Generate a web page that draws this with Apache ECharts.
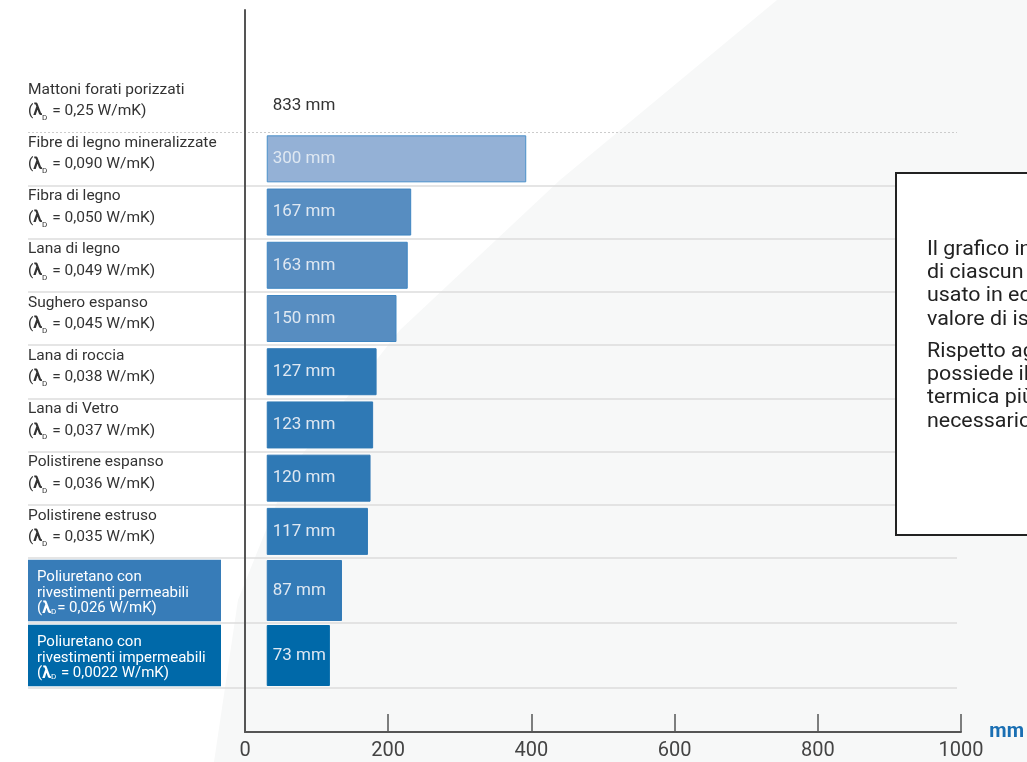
<!DOCTYPE html>
<html>
<head>
<meta charset="utf-8">
<script src="https://cdn.jsdelivr.net/npm/echarts@6/dist/echarts.min.js"></script>
<style>
html,body{margin:0;padding:0;background:#fff;overflow:hidden;}
#chart{width:1027px;height:762px;}
</style>
</head>
<body>
<div id="chart"></div>
<script>
// ---- data ----
var materials = [
  'Mattoni forati porizzati',
  'Fibre di legno mineralizzate',
  'Fibra di legno',
  'Lana di legno',
  'Sughero espanso',
  'Lana di roccia',
  'Lana di Vetro',
  'Polistirene espanso',
  'Polistirene estruso',
  'Poliuretano con\nrivestimenti permeabili',
  'Poliuretano con\nrivestimenti impermeabili'
];
var lambdas = ['0,25', '0,090', '0,050', '0,049', '0,045', '0,038', '0,037', '0,036', '0,035', '0,026', '0,0022'];
var thickness = [833, 300, 167, 163, 150, 127, 123, 120, 117, 87, 73];
var axisTicks = [0, 200, 400, 600, 800, 1000];
var unitName = 'mm';

var barColors = ['rgba(0,0,0,0)', '#94b1d6', '#578dc1', '#578dc1', '#578dc1', '#2f79b5', '#2f79b5', '#2f79b5', '#2f79b5', '#337bb7', '#0069a9'];
var barBorders = ['rgba(0,0,0,0)', '#4a90c9', '#3f86c2', '#3f86c2', '#3f86c2', '#2f79b5', '#2f79b5', '#2f79b5', '#2f79b5', '#337bb7', '#0069a9'];
var boxColors = { 9: '#377cb8', 10: '#0069a9' };
var SPLIT = 9; // first group: classic materials, second group: polyurethane

var FONT = 'Roboto, "Noto Sans", sans-serif';

function catItems(from, to) {
  return materials.slice(from, to).map(function (m, j) {
    var i = from + j;
    if (boxColors[i]) {
      return {
        value: m,
        textStyle: {
          color: '#ffffff',
          backgroundColor: boxColors[i],
          padding: [10, 9, 5, 9],
          width: 175,
          fontSize: 15,
          lineHeight: 15.5
        }
      };
    }
    return m;
  });
}
function barItems(from, to) {
  return thickness.slice(from, to).map(function (v, j) {
    var i = from + j;
    return {
      value: v,
      itemStyle: { color: barColors[i], borderColor: barBorders[i], borderWidth: 1 },
      label: { color: i === 0 ? '#333' : '#dfe8f2' }
    };
  });
}
function labelFormatter(offset) {
  return function (value, idx) {
    var i = idx + offset;
    var eq = i === 9 ? '= ' : ' = ';
    return value + '\n{t|(}{lam|λ}{sub|D}{t|' + eq + lambdas[i] + ' W/mK)}';
  };
}
var rich = {
  t: { fontFamily: FONT },
  lam: { fontSize: 16, fontWeight: 'bold', fontFamily: FONT },
  sub: { fontSize: 8, fontFamily: FONT, verticalAlign: 'bottom', padding: [0, 1, 0, 0] }
};

var nA = SPLIT, nB = materials.length - SPLIT;
var splitA = []; for (var k = 0; k <= nA; k++) splitA.push(k <= 1 ? 'rgba(0,0,0,0)' : '#dcdcdc');
var dottedA = splitA.map(function (c, k) { return k === 1 ? '#cccccc' : 'rgba(0,0,0,0)'; });
var splitB = []; for (var k2 = 0; k2 <= nB; k2++) splitB.push(k2 === 0 ? 'rgba(0,0,0,0)' : '#dcdcdc');

function catAxis(gridIndex, from, to, colors) {
  return {
    gridIndex: gridIndex, type: 'category', inverse: true, data: catItems(from, to),
    axisLine: { show: false }, axisTick: { show: false },
    splitLine: { show: true, lineStyle: { color: colors, width: 1.5 } },
    axisLabel: {
      inside: true, margin: 0, interval: 0, hideOverlap: false,
      color: '#333', fontSize: 15.5, lineHeight: 21.5, fontFamily: FONT,
      padding: [0, 0, 10, 0],
      formatter: labelFormatter(from), rich: rich
    }
  };
}
var barLabel = {
  show: true, position: 'insideLeft', distance: 6, fontSize: 17, fontFamily: FONT,
  formatter: function (p) { return p.value + ' ' + unitName; }
};

var chart = echarts.init(document.getElementById('chart'));

chart.setOption({
  animation: false,
  textStyle: { fontFamily: FONT },
  graphic: [
    {
      type: 'polygon', z: -10, silent: true,
      shape: { points: [[777, 0], [1027, 0], [1027, 762], [214, 762], [238, 600], [290, 470], [400, 330], [560, 180]] },
      style: { fill: '#f7f8f8' }
    },
    {
      type: 'rect', z: 50, silent: true,
      shape: { x: 896, y: 173, width: 160, height: 362 },
      style: { fill: '#ffffff', stroke: '#222', lineWidth: 2 }
    },
    {
      type: 'text', z: 51, silent: true, x: 927, y: 238, scaleX: 1.07,
      style: {
        x: 0, y: 0,
        text: 'Il grafico indica lo spessore\ndi ciascun materiale isolante\nusato in edilizia per ottenere lo stesso\nvalore di isolamento termico.',
        fill: '#222', font: '20px ' + FONT, lineHeight: 23.3
      }
    },
    {
      type: 'text', z: 51, silent: true, x: 927, y: 340, scaleX: 1.07,
      style: {
        x: 0, y: 0,
        text: 'Rispetto agli altri materiali, il poliuretano\npossiede il valore di resistenza\ntermica più elevato, quindi è\nnecessario uno spessore minore.',
        fill: '#222', font: '20px ' + FONT, lineHeight: 23.3
      }
    }
  ],
  grid: [
    { left: 28, right: 70, top: 79, bottom: 204 },
    { left: 28, right: 70, top: 558, bottom: 74 },
    { left: 245, right: 59, top: 10, bottom: 30 }
  ],
  xAxis: [
    { gridIndex: 0, type: 'value', min: -276, max: 798, show: false },
    { gridIndex: 1, type: 'value', min: -276, max: 798, show: false },
    {
      gridIndex: 2, type: 'value', min: axisTicks[0], max: axisTicks[axisTicks.length - 1], interval: 200,
      name: unitName, nameLocation: 'end', nameGap: 14,
      nameTextStyle: { color: '#1a6fb3', fontSize: 20, fontWeight: 'bold', fontFamily: FONT, padding: [0, 0, 10, 0] },
      axisLine: { show: true, lineStyle: { color: '#555', width: 2 } },
      axisTick: { show: true, inside: true, length: 18, lineStyle: { color: '#555', width: 1.5 } },
      axisLabel: { color: '#444', fontSize: 20, margin: 9, fontFamily: FONT, formatter: function (v) { return String(v); } },
      splitLine: { show: false }
    }
  ],
  yAxis: [
    catAxis(0, 0, SPLIT, splitA),
    catAxis(1, SPLIT, materials.length, splitB),
    {
      gridIndex: 0, type: 'category', inverse: true, data: materials.slice(0, SPLIT),
      axisLine: { show: false }, axisTick: { show: false }, axisLabel: { show: false },
      splitLine: { show: true, lineStyle: { color: dottedA, width: 1, type: [2, 2] } }
    },
    {
      gridIndex: 2, type: 'value', min: 0, max: 1,
      axisLine: { show: true, lineStyle: { color: '#555', width: 2 } },
      axisTick: { show: false }, axisLabel: { show: false }, splitLine: { show: false }
    }
  ],
  series: [
    {
      type: 'bar', xAxisIndex: 0, yAxisIndex: 0, barWidth: 47, silent: true,
      data: barItems(0, SPLIT), label: barLabel
    },
    {
      type: 'bar', xAxisIndex: 1, yAxisIndex: 1, barWidth: 61, silent: true,
      data: barItems(SPLIT, materials.length), label: barLabel
    }
  ]
});
</script>
</body>
</html>
